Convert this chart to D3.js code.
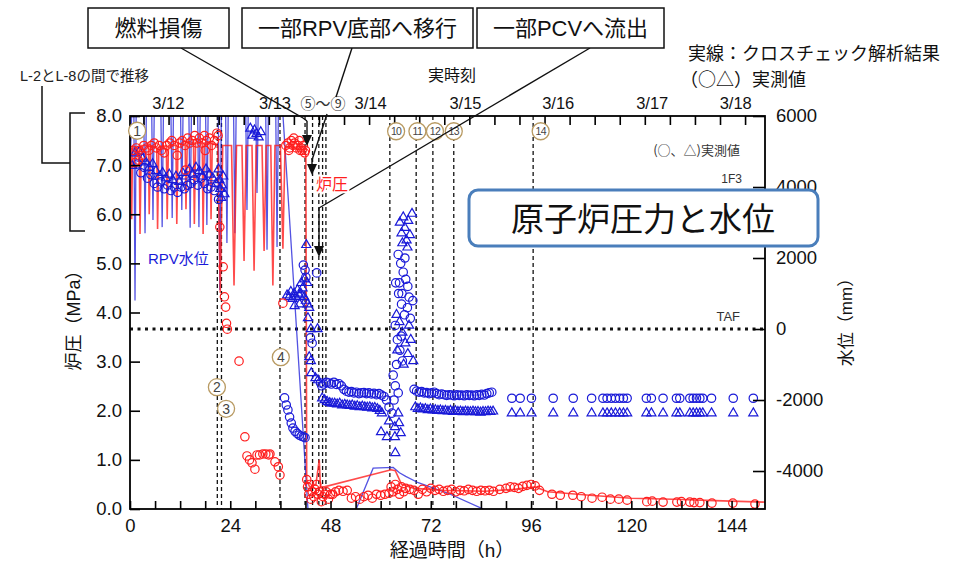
<!DOCTYPE html>
<html><head><meta charset="utf-8">
<script src="https://cdn.jsdelivr.net/npm/d3@7"></script>
<style>
body{margin:0;background:#fff;}
svg{display:block;font-family:"Liberation Sans","Noto Sans CJK JP",sans-serif;}
</style></head><body>
<svg id="chart" width="958" height="563"></svg>
<script>
// ---- data: elapsed hours since 3/11 14:46 ----
const hourTicks = [0, 24, 48, 72, 96, 120, 144];
const pressureTicks = [0, 1, 2, 3, 4, 5, 6, 7, 8];
const levelTicks = [-4000, -2000, 0, 2000, 4000, 6000];
const dateLabels = ["3/12", "3/13", "3/14", "3/15", "3/16", "3/17", "3/18"];
const dateLabelHours = [9.2, 34.7, 57.6, 80.3, 102.5, 125.0, 145.0];
const midnightTicks = [3.23, 9.23, 15.23, 21.23, 27.23, 33.23, 39.23, 45.23, 51.23, 57.23, 63.23, 69.23, 75.23, 81.23, 87.23, 93.23, 99.23, 105.23, 111.23, 117.23, 123.23, 129.23, 135.23, 141.23, 147.23];
const eventHours = [20.9, 21.9, 35.9, 41.9, 43.7, 45.2, 46.1, 46.9, 62.2, 68.5, 72.5, 77.5, 96.5];

// reactor pressure, cross-check analysis (MPa)
const pressureCalc = [
  [0,6.9],[0.3,7.35],[0.4,5.9],[0.6,7.35],
  [2.2,7.35],[2.4,5.6],[2.7,7.4],
  [4.4,7.4],[4.6,6.0],[4.9,7.4],
  [6.4,7.35],[6.6,5.7],[6.9,7.35],
  [8.7,7.4],[8.9,5.9],[9.2,7.4],
  [11.0,7.4],[11.2,5.8],[11.5,7.45],
  [13.2,7.4],[13.4,6.1],[13.7,7.45],
  [15.2,7.45],[15.4,5.8],[15.7,7.45],
  [17.3,7.45],[17.5,5.6],[17.8,7.45],
  [19.2,7.45],[19.4,5.9],[19.7,7.45],
  [21.0,7.4],[21.6,4.4],[22.2,7.4],
  [24.3,7.4],[24.9,4.55],[25.5,7.4],
  [26.8,7.4],[27.3,5.05],[27.8,7.4],
  [29.2,7.4],[29.7,4.85],[30.2,7.4],
  [31.6,7.4],[32.1,5.25],[32.6,7.4],
  [33.7,7.4],[34.2,4.55],[34.7,7.4],
  [36.0,7.4],[36.6,5.3],[37.1,7.35],
  [40.0,7.35],[41.5,7.3],[42.1,7.2],[42.3,0.6],[43.0,0.45],[44.5,0.5],[45.3,1.0],[45.6,0.45],
  [46.5,0.45],[62.5,0.8],[63.5,0.78],[65.0,0.5],[68.0,0.42],[75.0,0.38],[85.0,0.36],[92.0,0.4],
  [97.0,0.45],[100.0,0.35],[110.0,0.28],[120.0,0.22],[130.0,0.2],[140.0,0.17],[152.0,0.14]
];

// RPV water level, cross-check analysis (mm)
const levelCalc = [
  [0,4200],[0.5,6600],[0.9,6600],[1.2,800],[1.5,6600],
  [3.25,6600],[3.6,2700],[3.95,6600],
  [5.15,6600],[5.5,3070],[5.85,6600],
  [7.35,6600],[7.7,2870],[8.05,6600],
  [9.75,6600],[10.1,3130],[10.45,6600],
  [12.05,6600],[12.4,3350],[12.75,6600],
  [14.05,6600],[14.4,2850],[14.75,6600],
  [16.15,6600],[16.5,2870],[16.85,6600],
  [18.05,6600],[18.4,2930],[18.75,6600],
  [21.1,6600],[21.5,1100],[21.9,6600],
  [22.85,6600],[23.2,2420],[23.55,6600],
  [24.75,6600],[25.1,2700],[25.45,6600],
  [27.65,6600],[28.0,3350],[28.35,6600],
  [30.05,6600],[30.4,3830],[30.75,6600],
  [32.45,6600],[32.8,2230],[33.15,6600],
  [34.85,6600],[35.2,2310],[35.55,6600],
  [36.3,6600],[42.6,-5070],[42.8,-5400],[53.0,-5400],[58.2,-3920],[63.0,-3900],
  [64.5,-4050],[66.0,-4150],[69.0,-4330],[76.0,-4620],[84.5,-5070],[85.0,-5400],[152,-5400]
];

// measured reactor pressure (MPa)
const pressureObs = [
  [0.8,7.3],[1.2,7.05],[1.5,7.35],[2.0,7.1],[2.2,7.3],[2.8,7.2],[3.3,7.4],[4.0,7.35],[4.5,7.3],[5.1,7.4],
  [5.8,7.45],[6.3,7.35],[7.0,7.4],[7.5,7.3],[8.2,7.25],[8.8,7.4],[9.5,7.45],[10.0,7.5],[10.6,7.4],
  [11.3,7.2],[11.9,7.45],[12.5,7.5],[13.2,7.4],[13.3,6.9],[13.8,7.55],[14.3,7.45],[14.9,7.5],[15.5,7.6],
  [16.0,7.45],[16.6,7.55],[17.2,7.45],[17.8,7.6],[18.0,7.3],[18.3,7.5],[19.0,7.55],[19.5,7.4],
  [20.2,7.5],[20.8,7.65],[21.1,7.6],
  [21.5,5.74],[22.3,4.93],[22.6,4.32],[22.9,4.11],[23.1,3.78],[23.3,3.66],[26.1,3.01],[27.5,1.47],
  [28.0,1.08],[28.6,1.0],[29.2,0.94],[29.9,0.81],[30.4,1.1],[31.0,1.1],[31.8,1.12],[32.5,1.12],
  [33.2,1.1],[33.5,1.12],[34.7,0.96],[35.5,0.86],[35.9,0.69],[36.6,4.19],
  [37.3,7.4],[37.8,7.45],[38.0,7.3],[38.2,7.35],[38.6,7.5],[39.0,7.4],[39.2,7.55],[39.4,7.45],[39.8,7.35],
  [40.2,7.4],[40.5,7.5],[40.7,7.3],[40.9,7.35],[41.2,7.3],[41.5,7.4],[41.8,7.25],[42.0,7.3],
  [42.3,0.6],[42.5,0.45],[42.8,0.3],[43.0,0.5],[43.3,0.2],[43.6,0.35],[44.0,0.25],[44.3,0.4],[44.7,0.5],
  [45.0,0.3],[45.4,0.35],[45.8,0.15],[46.2,0.25],[46.6,0.3],[47.0,0.35],[47.5,0.2],[48.0,0.3],[48.5,0.3],
  [49.2,0.35],[50.0,0.38],[51.0,0.36],[52.0,0.38],
  [53.0,0.22],[54.0,0.25],[55.0,0.2],[56.0,0.25],[57.0,0.28],[58.0,0.22],[59.0,0.3],[60.0,0.28],[61.0,0.3],[62.0,0.32],
  [62.5,0.45],[63.0,0.35],[63.5,0.5],[64.0,0.4],[64.5,0.3],[65.0,0.45],[65.5,0.35],[66.0,0.42],[67.0,0.4],[68.0,0.38],
  [69.0,0.3],[70.0,0.4],[71.0,0.35],[72.0,0.42],[73.0,0.38],[74.0,0.4],[75.0,0.36],[76.0,0.38],[77.0,0.4],
  [78.0,0.35],[79.0,0.38],[80.0,0.37],[81.0,0.4],[82.0,0.38],[83.0,0.36],[84.0,0.38],[85.0,0.37],[86.0,0.38],[87.0,0.36],
  [88.5,0.4],[90.0,0.42],[91.0,0.45],[92.0,0.44],[93.0,0.42],[94.0,0.46],[95.0,0.48],[96.0,0.5],[97.0,0.47],[98.0,0.38],
  [101.0,0.3],[103.0,0.28],[106.0,0.28],[108.0,0.25],[110.6,0.22],[113.0,0.24],[115.0,0.2],[117.0,0.2],[119.0,0.18],
  [123.7,0.15],[125.0,0.16],[127.6,0.14],[130.9,0.14],[132.0,0.15],[134.0,0.14],[135.0,0.13],[136.4,0.13],
  [139.3,0.12],[144.3,0.12],[149.6,0.1]
];

// measured water level, circle gauge (mm)
const levelObsCircle = [
  [1.8,4650],[2.6,4400],[3.4,4550],[4.2,4250],[5.0,4350],[5.8,4100],[6.6,4000],[7.4,4150],[8.2,3950],
  [9.0,4050],[9.8,3900],[10.6,4000],[11.4,3850],[12.2,4000],[13.0,3950],[13.8,4050],[14.6,4100],
  [15.4,4200],[16.2,4050],[17.0,4250],[17.8,4100],[18.6,3950],[19.4,4000],[20.2,3900],[21.2,3650],
  [37.0,-1940],[37.4,-2140],[37.8,-2280],[38.2,-2480],[38.6,-2650],[39.0,-2790],[39.5,-2880],[40.0,-2940],
  [40.5,-2990],[41.0,-3020],[41.5,-3040],[41.9,-3060],
  [41.5,1800],[41.9,1660],[42.1,1460],[44.7,1580],
  [43.2,-250],[43.6,-400],[45.6,-1520],[45.9,-1600],
  [46.4,-1550],[47.0,-1500],[47.6,-1520],[48.2,-1550],[48.8,-1500],[49.4,-1560],[50.0,-1540],[50.6,-1600],
  [51.2,-1700],[51.8,-1750],[52.4,-1780],[53.0,-1760],[53.6,-1800],[54.2,-1780],[54.8,-1820],[55.4,-1800],
  [56.0,-1790],[56.6,-1820],[57.2,-1800],[57.8,-1830],[58.4,-1810],[59.0,-1850],[59.6,-1820],[60.2,-1860],
  [60.8,-1900],[61.4,-2000],[62.0,-2200],[62.7,-2370],
  [63.0,-1300],[63.5,-1600],[64.2,-1800],[63.2,-2000],[63.5,100],[64.0,-300],[64.6,-600],[65.2,-900],
  [63.8,-1000],[64.9,-200],[63.6,1300],[64.3,1000],[65.0,700],[65.7,400],[66.4,600],[67.1,300],[67.7,800],
  [64.2,2100],[64.8,1850],[65.4,1600],[66.0,1400],[66.5,1200],[64.5,1300],[65.8,2000],[66.8,900],[65.1,1000],
  [68.0,-1700],[68.6,-1750],[69.2,-1780],[69.8,-1760],[70.4,-1800],[71.0,-1790],[71.6,-1820],[72.2,-1800],
  [72.8,-1780],[73.4,-1820],[74.0,-1850],[74.6,-1830],[75.2,-1850],[75.8,-1870],[76.4,-1850],[77.0,-1860],
  [77.6,-1880],[78.2,-1850],[78.8,-1870],[79.4,-1860],[80.0,-1880],[80.6,-1850],[81.2,-1870],[81.8,-1860],
  [82.4,-1880],[83.0,-1850],[83.6,-1870],[84.2,-1840],[84.8,-1860],[85.4,-1820],[86.0,-1800],[86.6,-1780],
  [91.4,-1950],[93.4,-1950],[96.1,-1950],[101.3,-1950],[106.1,-1950],[110.5,-1950],[113.2,-1950],
  [114.2,-1950],[115.2,-1950],[116.2,-1950],[117.2,-1950],[118.1,-1950],[119.0,-1950],[123.6,-1950],
  [124.8,-1950],[127.6,-1950],[130.8,-1950],[131.6,-1950],[134.0,-1950],[134.8,-1950],[135.6,-1950],
  [136.4,-1950],[137.1,-1950],[139.2,-1950],[144.4,-1950],[149.2,-1950]
];

// measured water level, triangle gauge (mm)
const levelObsTri = [
  [0.5,4600],[1.2,4950],[2.2,5000],[3.0,4800],[3.8,4700],[4.6,4550],[5.4,4650],[6.2,4450],[7.0,4300],
  [7.8,4400],[8.6,4250],[9.4,4350],[10.2,4200],[11.0,4300],[11.8,4150],[12.6,4400],[13.4,4300],[14.2,4500],
  [15.0,4350],[15.8,4550],[16.6,4450],[17.4,4300],[18.2,4500],[19.0,4350],[19.8,4250],[20.6,4100],
  [21.2,4500],[21.4,4200],[21.6,3950],[21.8,3700],[22.0,4050],[22.3,4300],[22.6,3800],
  [28.8,5650],[29.3,5450],[29.8,5600],[30.3,5500],[30.8,5400],[31.3,5550],
  [37.6,950],[38.1,900],[38.5,1050],[38.9,850],[39.3,1000],[39.7,900],[40.1,1100],[40.5,950],[40.9,1000],
  [41.3,1150],[41.7,900],[42.1,800],[42.5,700],[42.9,600],[41.0,1300],[41.8,1400],[40.6,700],[39.4,650],
  [42.2,2370],[42.4,1300],
  [42.6,310],[43.3,0],[44.9,0],[42.9,-790],[43.3,-900],[43.4,-1240],[44.4,-1380],[45.0,-1440],
  [46.0,-1950],[46.6,-2000],[47.2,-2050],[47.8,-2080],[48.4,-2100],[49.0,-2100],[49.6,-2120],[50.2,-2100],
  [50.8,-2150],[51.4,-2130],[52.0,-2150],[52.6,-2160],[53.2,-2150],[53.8,-2180],[54.4,-2170],[55.0,-2200],
  [55.6,-2180],[56.2,-2200],[56.8,-2210],[57.4,-2200],[58.0,-2230],[58.6,-2220],[59.2,-2250],[59.8,-2300],
  [60.3,-2370],[60.1,-2900],[61.5,-3040],[62.0,-2600],[63.4,-2760],[63.4,-3040],[63.5,-3490],
  [64.6,3000],[65.0,2700],[65.4,3150],[65.8,2850],[66.2,2500],[66.6,3050],[67.0,2650],[67.5,3250],
  [65.2,2420],[66.4,2300],[63.8,400],[64.5,200],[65.2,-100],[65.9,-400],[66.5,-700],[67.2,-300],
  [67.8,-900],[64.0,-600],[65.5,-1000],[66.8,100],[64.2,-2370],[64.4,-2650],[64.8,-2930],
  [68.3,-2200],[68.9,-2250],[69.5,-2230],[70.1,-2260],[70.7,-2250],[71.3,-2280],[71.9,-2260],[72.5,-2290],
  [73.1,-2280],[73.7,-2300],[74.3,-2290],[74.9,-2310],[75.5,-2300],[76.1,-2320],[76.7,-2300],[77.3,-2330],
  [77.9,-2310],[78.5,-2330],[79.1,-2320],[79.7,-2340],[80.3,-2320],[80.9,-2330],[81.5,-2340],[82.1,-2320],
  [82.7,-2340],[83.3,-2330],[83.9,-2350],[84.5,-2330],[85.1,-2340],[85.7,-2320],[86.3,-2330],[86.9,-2320],
  [91.4,-2370],[93.4,-2370],[96.1,-2370],[101.3,-2370],[106.1,-2370],[110.5,-2370],[113.2,-2370],
  [114.2,-2370],[115.2,-2370],[116.2,-2370],[117.2,-2370],[118.1,-2370],[119.0,-2370],[123.6,-2370],
  [124.8,-2370],[127.6,-2370],[130.8,-2370],[131.6,-2370],[134.0,-2370],[134.8,-2370],[135.6,-2370],
  [136.4,-2370],[137.1,-2370],[139.2,-2370],[144.4,-2370],[149.2,-2370]
];

// ---- drawing ----
const RED = "#ff1e1e", BLUE = "#1a1ad8";
const CJK = "Noto Sans CJK JP, sans-serif";
const svg = d3.select("#chart");
const L = 130, R = 765, T = 116, B = 509;

const x = d3.scaleLinear().domain([0, 152]).range([L, R]);
const yP = d3.scaleLinear().domain([0, 8]).range([B, T]);
const yL = d3.scaleLinear().domain([-5070, 6000]).range([B, T]);

svg.append("defs").append("clipPath").attr("id", "plot")
  .append("rect").attr("x", L).attr("y", T).attr("width", R - L).attr("height", B - T);

// event lines (dashed)
svg.append("g").selectAll("line").data(eventHours).join("line")
  .attr("x1", d => x(d)).attr("x2", d => x(d)).attr("y1", T).attr("y2", B)
  .attr("stroke", "#111").attr("stroke-width", 1.3).attr("stroke-dasharray", "4,3");

// TAF line
svg.append("line").attr("x1", L).attr("x2", R).attr("y1", yL(0)).attr("y2", yL(0))
  .attr("stroke", "#111").attr("stroke-width", 3).attr("stroke-dasharray", "3,4.5");

const plot = svg.append("g").attr("clip-path", "url(#plot)");

plot.append("path").datum(levelCalc)
  .attr("d", d3.line().x(d => x(d[0])).y(d => yL(d[1])))
  .attr("fill", "none").attr("stroke", BLUE).attr("stroke-width", 1.3).attr("stroke-opacity", 0.75);
plot.append("path").datum(pressureCalc)
  .attr("d", d3.line().x(d => x(d[0])).y(d => yP(d[1])))
  .attr("fill", "none").attr("stroke", RED).attr("stroke-width", 1.6).attr("stroke-opacity", 0.8);

const tri = d3.symbol().type(d3.symbolTriangle).size(36);
plot.append("g").selectAll("path").data(levelObsTri).join("path")
  .attr("d", tri).attr("transform", d => `translate(${x(d[0])},${yL(d[1])})`)
  .attr("fill", "none").attr("stroke", BLUE).attr("stroke-width", 1.2);
plot.append("g").selectAll("circle").data(levelObsCircle).join("circle")
  .attr("cx", d => x(d[0])).attr("cy", d => yL(d[1])).attr("r", 4.2)
  .attr("fill", "none").attr("stroke", BLUE).attr("stroke-width", 1.2);
plot.append("g").selectAll("circle").data(pressureObs).join("circle")
  .attr("cx", d => x(d[0])).attr("cy", d => yP(d[1])).attr("r", 4.2)
  .attr("fill", "none").attr("stroke", RED).attr("stroke-width", 1.2);

// axes
const axisFont = g => g.selectAll("text").attr("font-size", 18.5).attr("fill", "#111")
  .attr("font-family", "Liberation Sans, Arial, sans-serif");
const axisLines = g => { g.select(".domain").remove(); g.selectAll("line").attr("stroke", "#000").attr("stroke-width", 1.6); };

svg.append("g").attr("transform", `translate(${L},0)`)
  .call(d3.axisLeft(yP).tickValues(pressureTicks).tickSize(-10).tickPadding(8).tickFormat(d3.format(".1f")))
  .call(axisLines).call(axisFont);
svg.append("g").attr("transform", `translate(${R},0)`)
  .call(d3.axisRight(yL).tickValues(levelTicks).tickSize(-12).tickPadding(11).tickFormat(d => d < 0 ? "-" + Math.abs(d) : String(d)))
  .call(axisLines).call(axisFont);
svg.append("g").attr("transform", `translate(0,${B})`)
  .call(d3.axisBottom(x).tickValues(d3.range(0, 151, 6)).tickSize(-8).tickPadding(10)
    .tickFormat(d => hourTicks.includes(d) ? d : ""))
  .call(axisLines).call(axisFont);
svg.append("g").attr("transform", `translate(0,${T})`)
  .call(d3.axisTop(x).tickValues(midnightTicks).tickSize(-9).tickFormat(""))
  .call(axisLines);

svg.append("rect").attr("x", L).attr("y", T).attr("width", R - L).attr("height", B - T)
  .attr("fill", "none").attr("stroke", "#000").attr("stroke-width", 1.8);

// date labels on the top axis
svg.append("g").selectAll("text").data(dateLabels).join("text")
  .attr("x", (d, i) => x(dateLabelHours[i])).attr("y", 109).attr("text-anchor", "middle")
  .attr("font-size", 16.5).attr("fill", "#111").text(d => d);
svg.append("text").attr("x", 323).attr("y", 109).attr("text-anchor", "middle")
  .attr("font-size", 15).attr("fill", "#333").attr("font-family", CJK).text("⑤～⑨");
svg.append("text").attr("x", 452).attr("y", 81).attr("text-anchor", "middle")
  .attr("font-size", 16).attr("fill", "#111").attr("font-family", CJK).text("実時刻");

// circled event numbers
const marks = [
  ["1", 1.7, 7.7], ["2", 20.8, 2.48], ["3", 23.0, 2.04], ["4", 36.1, 3.09],
  ["10", 63.7, 7.69], ["11", 68.8, 7.69], ["12", 73.0, 7.69], ["13", 77.5, 7.69], ["14", 98.3, 7.69]
];
const mg = svg.append("g").selectAll("g").data(marks).join("g")
  .attr("transform", d => `translate(${x(d[1])},${yP(d[2])})`);
mg.append("circle").attr("r", 8.5).attr("fill", "#fff").attr("stroke", "#b89a62").attr("stroke-width", 1.3);
mg.append("text").attr("text-anchor", "middle").attr("dy", d => d[0].length > 1 ? 3.8 : 4.8)
  .attr("font-size", d => d[0].length > 1 ? 10.5 : 14).attr("fill", "#444")
  .attr("letter-spacing", d => d[0].length > 1 ? -0.6 : 0).text(d => d[0]);

// in-plot notes
const note = (t, xx, yy, size, col, anchor, fam) => svg.append("text").attr("x", xx).attr("y", yy)
  .attr("font-size", size).attr("fill", col).attr("text-anchor", anchor || "start")
  .attr("font-family", fam || "Liberation Sans, Noto Sans CJK JP, sans-serif").text(t);
note("(○、△)実測値", 740, 155, 13, "#333", "end", CJK);
note("1F3", 742, 183, 12, "#333", "end");
note("TAF", 740, 321, 13, "#333", "end");
note("RPV水位", 148, 264, 15, BLUE);

// annotation boxes and leaders
const ann = svg.append("g");
const arrow = (x1, y1, x2, y2) => {
  ann.append("line").attr("x1", x1).attr("y1", y1).attr("x2", x2).attr("y2", y2 - 8)
    .attr("stroke", "#111").attr("stroke-width", 1.4);
  ann.append("path").attr("d", `M${x2 - 5},${y2 - 11}L${x2 + 5},${y2 - 11}L${x2},${y2}Z`).attr("fill", "#111");
};
const seg = pts => ann.append("polyline").attr("points", pts.map(p => p.join(",")).join(" "))
  .attr("fill", "none").attr("stroke", "#111").attr("stroke-width", 1.4);
seg([[181, 48], [303, 118], [307, 121]]);
arrow(307, 121, 307, 146);
seg([[352, 48], [336, 97]]);
seg([[327, 114], [312, 160]]);
arrow(312, 158, 312, 175);
seg([[590, 48], [319, 208]]);
arrow(319, 208, 319, 257);

const boxes = [["燃料損傷", 88, 141], ["一部RPV底部へ移行", 242, 231], ["一部PCVへ流出", 477, 187]];
boxes.forEach(b => {
  ann.append("rect").attr("x", b[1]).attr("y", 8).attr("width", b[2]).attr("height", 40)
    .attr("fill", "#fff").attr("stroke", "#111").attr("stroke-width", 1.5);
  ann.append("text").attr("x", b[1] + b[2] / 2).attr("y", 36).attr("text-anchor", "middle")
    .attr("font-size", 22).attr("fill", "#111").text(b[0]);
});

// pressure label sits over the leader line
svg.append("text").attr("x", 316).attr("y", 190).attr("font-size", 16).attr("fill", RED)
  .attr("stroke", "#fff").attr("stroke-width", 4).attr("paint-order", "stroke").text("炉圧");

// left bracket for L-2/L-8 band
const br = svg.append("g").attr("fill", "none").attr("stroke", "#111").attr("stroke-width", 1.5);
br.append("polyline").attr("points", "42,86 42,163 70,163");
br.append("polyline").attr("points", "85,113 70,113 70,231 85,231");
note("L-2とL-8の間で推移", 20, 81, 14.5, "#222");

// legend text top right
note("実線：クロスチェック解析結果", 688, 60, 18, "#111", "start", CJK);
note("（○△）実測値", 680, 86, 18, "#111", "start", CJK);

// axis titles
svg.append("text").attr("transform", "translate(80,316) rotate(-90)").attr("text-anchor", "middle")
  .attr("font-size", 18).attr("fill", "#111").text("炉圧（MPa）");
svg.append("text").attr("transform", "translate(852,318) rotate(-90)").attr("text-anchor", "middle")
  .attr("font-size", 17).attr("fill", "#111").text("水位（mm）");
svg.append("text").attr("x", 452).attr("y", 557).attr("text-anchor", "middle")
  .attr("font-size", 19).attr("fill", "#111").text("経過時間（h）");

// title box
svg.append("rect").attr("x", 469).attr("y", 190).attr("width", 349).attr("height", 56).attr("rx", 9)
  .attr("fill", "#fff").attr("stroke", "#4a7ebb").attr("stroke-width", 3);
svg.append("text").attr("x", 643).attr("y", 231).attr("text-anchor", "middle")
  .attr("font-size", 33).attr("fill", "#111").attr("font-family", CJK).text("原子炉圧力と水位");
</script></body></html>
